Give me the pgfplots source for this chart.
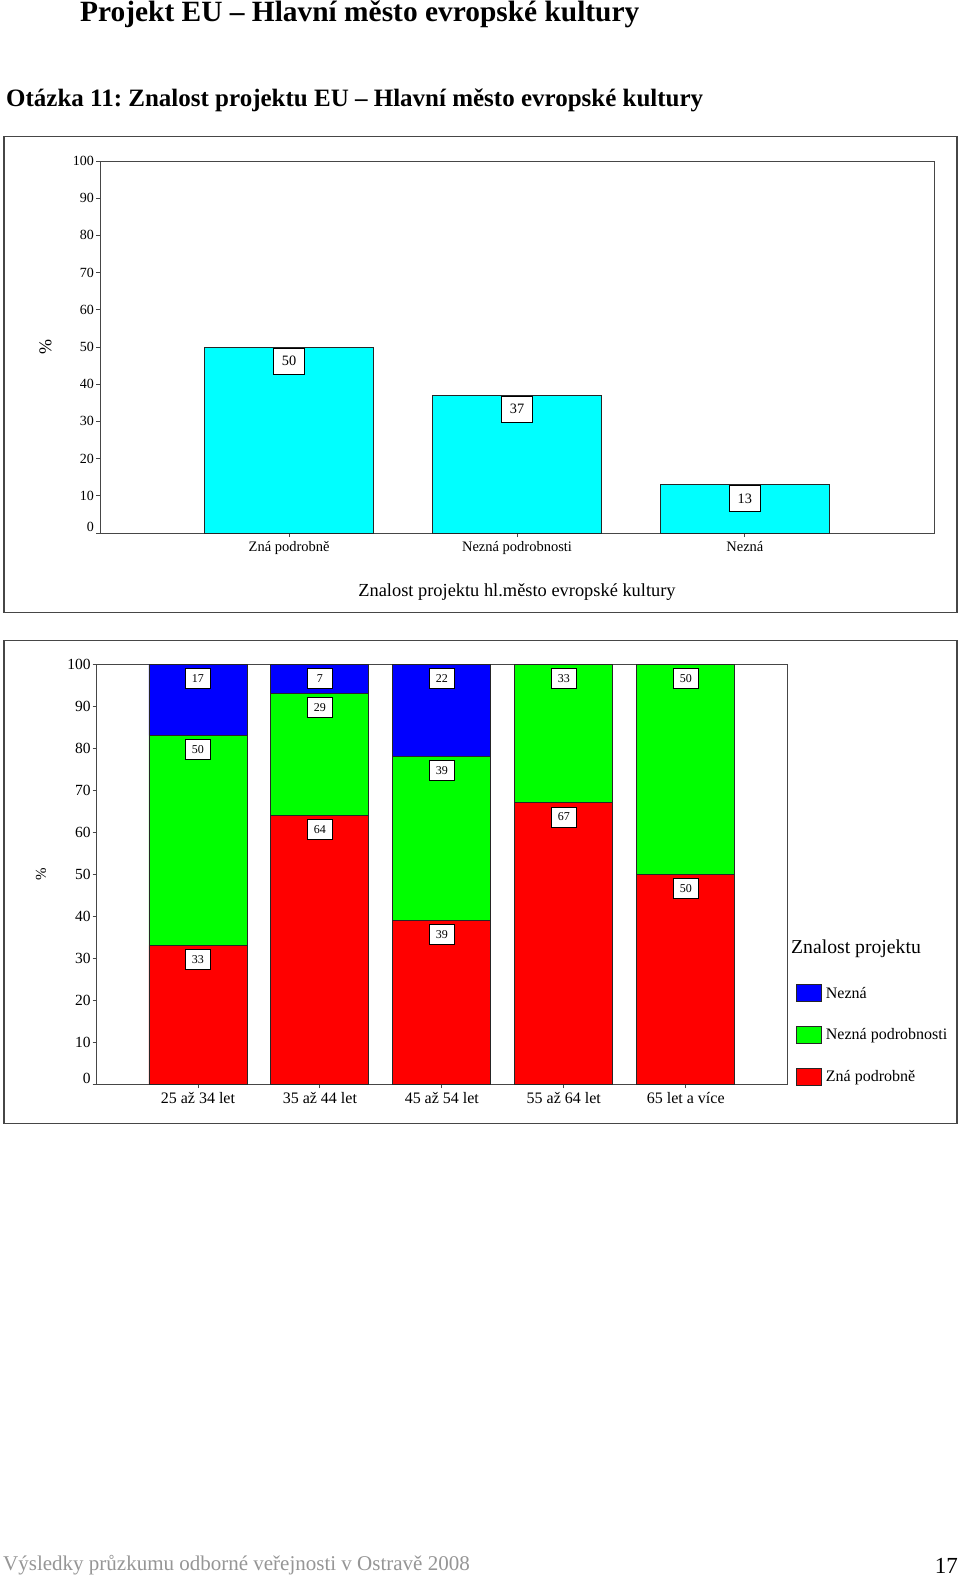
\documentclass[border=0pt]{standalone}
\usepackage{fontspec}
\setmainfont{Liberation Serif}
\usepackage{pgfplots}
\pgfplotsset{compat=1.18}
\definecolor{cyanbar}{RGB}{0,255,255}
\definecolor{redbar}{RGB}{255,0,0}
\definecolor{greenbar}{RGB}{0,255,0}
\definecolor{bluebar}{RGB}{0,0,255}
\definecolor{framec}{RGB}{70,70,70}
\definecolor{footc}{RGB}{150,150,150}
\newcommand{\fs}[1]{\fontsize{#1}{#1}\selectfont}
\frenchspacing
\pgfplotsset{
  /pgf/number format/assume math mode=true,
  common/.style={
    scale only axis,
    anchor=south west,
    ymin=0, ymax=100,
    ytick={10,20,...,100},
    extra y ticks={0},
    extra y tick style={yticklabel style={yshift=6pt}},
    tick align=outside,
    major tick length=4pt,
    xtick pos=bottom, ytick pos=left,
    axis line style={framec, line width=0.9pt},
    every tick/.style={framec, line width=0.8pt},
    tick label style={inner sep=0pt},
    yticklabel style={anchor=east, xshift=-2pt},
    ylabel={\%},
    ylabel style={rotate=0, anchor=center},
  }
}
\begin{document}
\begin{tikzpicture}
\path[use as bounding box, fill=white] (0pt,0pt) rectangle (960pt,-1576pt);
\node[anchor=base west, inner sep=0pt, font=\bfseries\fs{29.4}] at (80pt,-21.5pt) {Projekt EU – Hlavní město evropské kultury};
\node[anchor=base west, inner sep=0pt, font=\bfseries\fs{25}] at (6pt,-107pt) {Otázka 11: Znalost projektu EU – Hlavní město evropské kultury};
\draw[framec, line width=1.2pt] (4pt,-136.7pt) rectangle (957pt,-612.3pt);
\draw[framec, line width=1.2pt] (4pt,-640.7pt) rectangle (957pt,-1123.3pt);

\begin{axis}[common,
  at={(100pt,-533pt)}, width=834pt, height=372pt,
  ybar, bar width=169pt,
  xmin=-0.83, xmax=2.83,
  xtick={0,1,2}, xticklabels={Zná podrobně, Nezná podrobnosti, Nezná},
  yticklabel style={font=\fs{14}},
  xticklabel style={font=\fs{14.5}, anchor=base, yshift=-14.7pt},
  ylabel style={font=\fs{18}, at={(axis description cs:-0.0653,0.5)}},
  xlabel={Znalost projektu hl.město evropské kultury},
  xlabel style={font=\fs{18.4}, anchor=base, at={(axis description cs:0.5,-0.1704)}},
  nodes near coords,
  nodes near coords style={anchor=north, yshift=-0.5pt, draw=black, fill=white,
     line width=0.8pt, minimum width=31pt, minimum height=26pt, inner sep=0pt, font=\fs{14.3}},
]
\addplot[fill=cyanbar, draw=black!85, line width=0.8pt] coordinates {(0,50) (1,37) (2,13)};
\end{axis}

\node[anchor=base west, inner sep=0pt, font=\fs{19.7}] at (791pt,-953pt) {Znalost projektu};

\begin{axis}[common,
  at={(96.7pt,-1084pt)}, width=690.3pt, height=420pt,
  ybar stacked, bar width=98pt,
  xmin=-0.83, xmax=4.83,
  xtick={0,1,2,3,4}, xticklabels={25 až 34 let, 35 až 44 let, 45 až 54 let, 55 až 64 let, 65 let a více},
  yticklabel style={font=\fs{15.5}},
  xticklabel style={font=\fs{16}, anchor=base, yshift=-15.3pt},
  ylabel style={font=\fs{15}, at={(axis description cs:-0.0807,0.5)}},
  point meta=explicit,
  visualization depends on={rawy \as \ry},
  nodes near coords,
  nodes near coords style={anchor=north, yshift={\ry*2.1pt-4pt}, draw=black, fill=white,
     line width=0.6pt, minimum width=25pt, minimum height=20pt, inner sep=0pt, font=\fs{12}},
  reverse legend,
  legend image code/.code={\draw[#1, line width=0.8pt, draw=black!85] (0pt,-8.5pt) rectangle (25pt,8.5pt);},
  legend style={draw=none, fill=none, inner sep=0pt, outer sep=0pt, anchor=west,
     at={(axis description cs:1.0125,0.1167)}, font=\fs{16},
     nodes={inner sep=0pt}, column sep=4.5pt, row sep=24pt},
  legend cell align=left,
]
\addplot[fill=redbar, draw=black!85, line width=0.8pt] coordinates {(0,33)[33] (1,64)[64] (2,39)[39] (3,67)[67] (4,50)[50]};
\addlegendentry{Zná podrobně}
\addplot[fill=greenbar, draw=black!85, line width=0.8pt] coordinates {(0,50)[50] (1,29)[29] (2,39)[39] (3,33)[33] (4,50)[50]};
\addlegendentry{Nezná podrobnosti}
\addplot[fill=bluebar, draw=black!85, line width=0.8pt] coordinates {(0,17)[17] (1,7)[7] (2,22)[22]};
\addlegendentry{Nezná}
\end{axis}

\node[anchor=base west, inner sep=0pt, font=\fs{21}, text=footc] at (3pt,-1570pt) {Výsledky průzkumu odborné veřejnosti v Ostravě 2008};
\node[anchor=base east, inner sep=0pt, font=\fs{23}] at (958pt,-1573pt) {17};
\end{tikzpicture}
\end{document}
